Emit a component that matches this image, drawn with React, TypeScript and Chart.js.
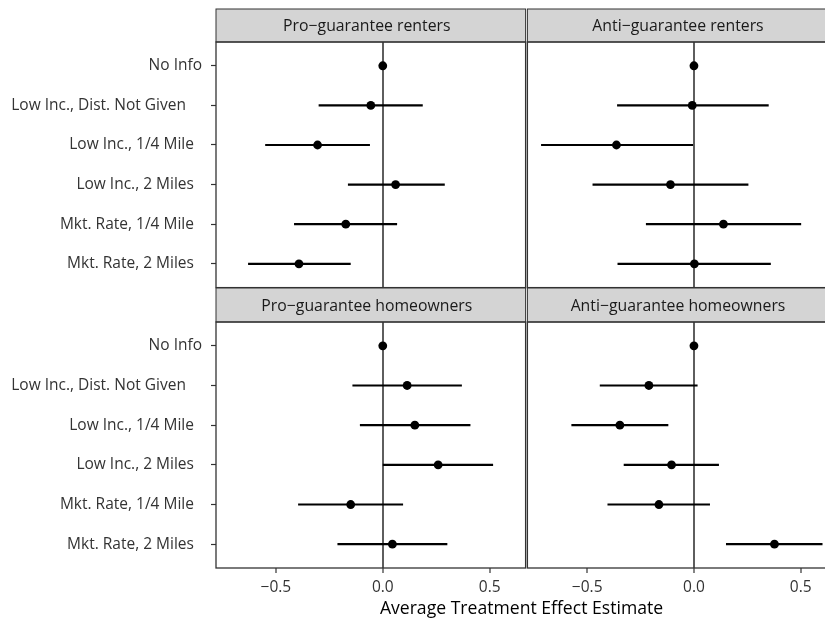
import React, { useEffect, useRef } from "react";
import { Chart, registerables } from "chart.js";

Chart.register(...registerables);

// ---- data ----
const categories = [
  "No Info",
  "Low Inc., Dist. Not Given    ",
  "Low Inc., 1/4 Mile  ",
  "Low Inc., 2 Miles  ",
  "Mkt. Rate, 1/4 Mile  ",
  "Mkt. Rate, 2 Miles  ",
];

const panelTitles = [
  "Pro\u2212guarantee renters",
  "Anti\u2212guarantee renters",
  "Pro\u2212guarantee homeowners",
  "Anti\u2212guarantee homeowners",
];

const proRentersEst = [0, -0.056, -0.305, 0.06, -0.173, -0.392];
const proRentersLow = [null, -0.3, -0.55, -0.163, -0.415, -0.63];
const proRentersHigh = [null, 0.187, -0.06, 0.29, 0.067, -0.15];

const antiRentersEst = [0, -0.008, -0.363, -0.11, 0.138, 0.002];
const antiRentersLow = [null, -0.36, -0.716, -0.475, -0.225, -0.358];
const antiRentersHigh = [null, 0.35, -0.004, 0.255, 0.502, 0.36];

const proOwnersEst = [0, 0.114, 0.15, 0.259, -0.15, 0.045];
const proOwnersLow = [null, -0.142, -0.107, 0.0, -0.396, -0.212];
const proOwnersHigh = [null, 0.37, 0.41, 0.516, 0.095, 0.302];

const antiOwnersEst = [0, -0.211, -0.347, -0.105, -0.164, 0.377];
const antiOwnersLow = [null, -0.441, -0.574, -0.329, -0.405, 0.15];
const antiOwnersHigh = [null, 0.017, -0.12, 0.117, 0.075, 0.602];

const xTickValues = [-0.5, 0, 0.5];
const X_MIN = -0.78;
const X_MAX = 0.668;
const axisTitle = "Average Treatment Effect Estimate";

const FONT = "'Open Sans', 'DejaVu Sans', sans-serif";

function fmtTick(v: number): string {
  if (v === 0) return "0.0";
  return (v < 0 ? "\u2212" : "") + Math.abs(v).toFixed(1);
}

type PanelProps = {
  title: string;
  est: number[];
  low: (number | null)[];
  high: (number | null)[];
  left: number;
  top: number;
  width: number;
  height: number;
  pad: { top: number; right: number; bottom: number; left: number };
  stripH: number;
  showY: boolean;
  showX: boolean;
};

function Panel(p: PanelProps) {
  const ref = useRef<HTMLCanvasElement>(null);
  useEffect(() => {
    const framePlugin = {
      id: "frame",
      afterDraw(chart: any) {
        const { ctx, chartArea } = chart;
        const { left, right, top, bottom } = chartArea;
        ctx.save();
        // strip
        ctx.fillStyle = "#d4d4d4";
        ctx.fillRect(left, top - p.stripH, right - left, p.stripH);
        ctx.strokeStyle = "#333333";
        ctx.lineWidth = 1;
        ctx.strokeRect(left, top - p.stripH, right - left, p.stripH);
        ctx.fillStyle = "#1a1a1a";
        ctx.font = "15.8px " + FONT;
        ctx.textAlign = "center";
        ctx.textBaseline = "middle";
        ctx.fillText(p.title, (left + right) / 2 - 4, top - p.stripH / 2 + 1);
        // panel border
        ctx.lineWidth = 1.3;
        ctx.strokeStyle = "#333333";
        ctx.strokeRect(left, top, right - left, bottom - top);
        ctx.restore();
      },
    };

    const datasets: any[] = [];
    for (let i = 0; i < categories.length; i++) {
      if (p.low[i] === null || p.high[i] === null) continue;
      datasets.push({
        data: [
          { x: p.low[i], y: i },
          { x: p.high[i], y: i },
        ],
        showLine: true,
        borderColor: "#000000",
        borderWidth: 2.2,
        pointRadius: 0,
        pointHoverRadius: 0,
      });
    }
    datasets.push({
      data: p.est.map((v, i) => ({ x: v, y: i })),
      showLine: false,
      pointRadius: 4.4,
      pointHoverRadius: 4.4,
      backgroundColor: "#000000",
      borderColor: "#000000",
      borderWidth: 0,
    });

    const chart = new Chart(ref.current!, {
      type: "scatter",
      data: { datasets },
      plugins: [framePlugin],
      options: {
        animation: false,
        responsive: false,
        maintainAspectRatio: false,
        events: [],
        layout: { padding: p.pad },
        plugins: {
          legend: { display: false },
          tooltip: { enabled: false },
          title: { display: false },
        },
        scales: {
          x: {
            type: "linear",
            min: X_MIN,
            max: X_MAX,
            afterBuildTicks: (s: any) => {
              s.ticks = xTickValues.map((v) => ({ value: v }));
            },
            afterFit: (s: any) => {
              s.height = p.showX ? 30 : 0;
              s.paddingLeft = 0;
              s.paddingRight = 0;
            },
            border: { display: false },
            grid: {
              color: (c: any) =>
                c.tick && c.tick.value === 0 ? "#5e5e5e" : "rgba(0,0,0,0)",
              lineWidth: 2,
              drawTicks: p.showX,
              tickLength: 5,
              tickColor: "#333333",
              tickWidth: 1.2,
            },
            ticks: {
              display: p.showX,
              padding: 5,
              color: "#333333",
              font: { family: FONT, size: 15.5 },
              callback: (v: any) => fmtTick(Number(v)),
            },
          },
          y: {
            type: "linear",
            display: p.showY,
            min: -0.6,
            max: categories.length - 0.4,
            reverse: true,
            afterBuildTicks: (s: any) => {
              s.ticks = categories.map((_, i) => ({ value: i }));
            },
            afterFit: (s: any) => {
              s.width = p.showY ? 216 : 0;
              s.paddingTop = 0;
              s.paddingBottom = 0;
            },
            border: { display: false },
            grid: {
              color: "rgba(0,0,0,0)",
              drawTicks: true,
              tickLength: 5,
              tickColor: "#333333",
              tickWidth: 1.2,
            },
            ticks: {
              autoSkip: false,
              padding: 9,
              color: "#333333",
              font: { family: FONT, size: 15.5 },
              callback: (v: any) => categories[Number(v)] ?? "",
            },
          },
        },
      } as any,
    });
    return () => chart.destroy();
  }, []);
  return (
    <canvas
      ref={ref}
      width={p.width}
      height={p.height}
      style={{
        position: "absolute",
        left: p.left,
        top: p.top,
        width: p.width,
        height: p.height,
      }}
    />
  );
}

export default function App() {
  return (
    <div
      style={{
        position: "absolute",
        left: 0,
        top: 0,
        width: 825,
        height: 624,
        overflow: "hidden",
        background: "#ffffff",
      }}
    >
      <Panel
        title={panelTitles[0]}
        est={proRentersEst}
        low={proRentersLow}
        high={proRentersHigh}
        left={0}
        top={0}
        width={530}
        height={292}
        pad={{ top: 42, right: 4, bottom: 4, left: 0 }}
        stripH={33}
        showY={true}
        showX={false}
      />
      <Panel
        title={panelTitles[1]}
        est={antiRentersEst}
        low={antiRentersLow}
        high={antiRentersHigh}
        left={523}
        top={0}
        width={318}
        height={292}
        pad={{ top: 42, right: 4, bottom: 4, left: 4 }}
        stripH={33}
        showY={false}
        showX={false}
      />
      <Panel
        title={panelTitles[2]}
        est={proOwnersEst}
        low={proOwnersLow}
        high={proOwnersHigh}
        left={0}
        top={280}
        width={530}
        height={344}
        pad={{ top: 42, right: 4, bottom: 26, left: 0 }}
        stripH={34}
        showY={true}
        showX={true}
      />
      <Panel
        title={panelTitles[3]}
        est={antiOwnersEst}
        low={antiOwnersLow}
        high={antiOwnersHigh}
        left={523}
        top={280}
        width={318}
        height={344}
        pad={{ top: 42, right: 4, bottom: 26, left: 4 }}
        stripH={34}
        showY={false}
        showX={true}
      />
      <div
        style={{
          position: "absolute",
          left: 211,
          top: 595,
          width: 621,
          textAlign: "center",
          fontFamily: FONT,
          fontSize: 17.6,
          lineHeight: "24px",
          color: "#000000",
          whiteSpace: "nowrap",
        }}
      >
        {axisTitle}
      </div>
    </div>
  );
}
